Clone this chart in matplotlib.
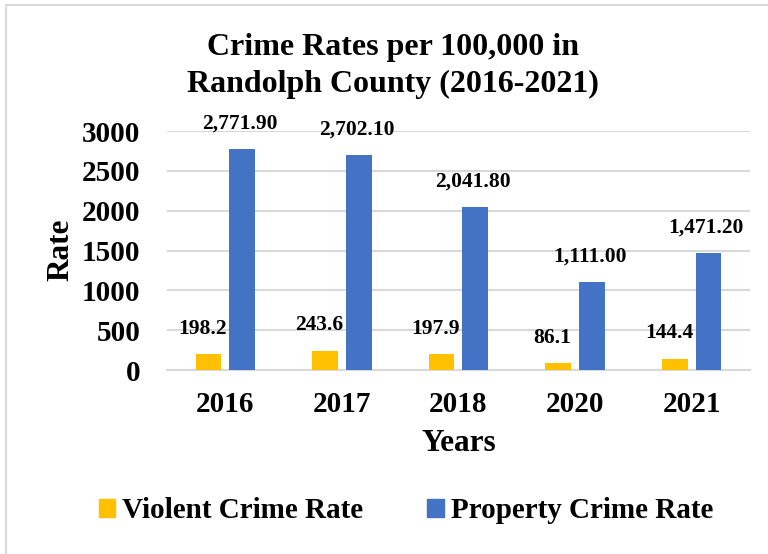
import matplotlib.pyplot as plt
from matplotlib.patches import Patch, Rectangle
import numpy as np

years = ["2016", "2017", "2018", "2020", "2021"]
violent = [198.2, 243.6, 197.9, 86.1, 144.4]
property_ = [2771.90, 2702.10, 2041.80, 1111.00, 1471.20]
violent_labels = ["198.2", "243.6", "197.9", "86.1", "144.4"]
property_labels = ["2,771.90", "2,702.10", "2,041.80", "1,111.00", "1,471.20"]

yellow = "#FFC000"
blue = "#4472C4"
grid_c = "#D9D9D9"

plt.rcParams['font.family'] = ['Liberation Serif', 'DejaVu Serif']
plt.rcParams['font.weight'] = 'bold'

fig = plt.figure(figsize=(7.68, 5.54), dpi=100)
ax = fig.add_axes([0.2174, 0.3321, 0.759, 0.4314])

# chart border (light gray frame)
fig.patches.append(Rectangle((6/768, -0.1), 1.2, (554-5)/554 + 0.1, transform=fig.transFigure,
                             fill=False, edgecolor="#D9D9D9", linewidth=1.5))

x = np.arange(len(years))
w = 0.22
off = 0.145
b1 = ax.bar(x - off, violent, w, color=yellow, zorder=3)
b2 = ax.bar(x + off, property_, w, color=blue, zorder=3)

for xi, v, lab in zip(x, violent, violent_labels):
    ax.annotate(lab, (xi - off - 0.05, v), xytext=(0, 11), textcoords="offset points",
                ha="center", va="bottom", fontsize=15.5, fontweight="bold")
for xi, v, lab in zip(x, property_, property_labels):
    ax.annotate(lab, (xi + off - 0.02, v), xytext=(0, 11), textcoords="offset points",
                ha="center", va="bottom", fontsize=15.5, fontweight="bold")

ax.set_xlim(-0.5, len(years) - 0.5)
ax.set_ylim(0, 3000)
ax.set_yticks(range(0, 3001, 500))
ax.yaxis.grid(True, color=grid_c, linewidth=1.5, zorder=0)
ax.set_axisbelow(True)
for s in ["top", "right", "left"]:
    ax.spines[s].set_visible(False)
ax.spines["bottom"].set_color(grid_c)
ax.spines["bottom"].set_linewidth(1.5)
ax.spines["bottom"].set_zorder(0)
ax.tick_params(axis="both", length=0, labelsize=21)
ax.tick_params(axis="y", pad=19)
ax.tick_params(axis="x", pad=15)
ax.set_xticks(x)
ax.set_xticklabels(years)
for t in ax.get_xticklabels() + ax.get_yticklabels():
    t.set_fontweight("bold")

ax.set_xlabel("Years", fontsize=22.5, fontweight="bold", labelpad=8)
fig.text(61/768, 1 - 250/554, "Rate", rotation=90, ha="center", va="center",
         fontsize=22.5, fontweight="bold")

fig.text(393/768, 1 - 66/554, "Crime Rates per 100,000 in\nRandolph County (2016-2021)",
         ha="center", va="center", fontsize=23, fontweight="bold", linespacing=1.35)

handles = [Patch(color=yellow), Patch(color=blue)]
fig.legend(handles, ["Violent Crime Rate", "Property Crime Rate"],
           loc="center", bbox_to_anchor=(406/768, 1 - 511/554), ncol=2, frameon=False,
           prop={'size': 21, 'weight': 'bold'}, handlelength=0.55, handleheight=0.55,
           handletextpad=0.25, columnspacing=2.2)

fig.savefig("out.png", dpi=100)
